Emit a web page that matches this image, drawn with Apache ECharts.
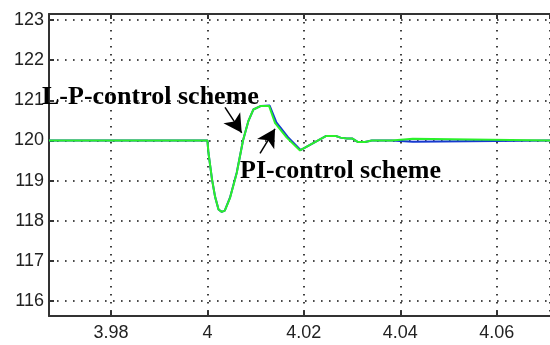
<!DOCTYPE html>
<html>
<head>
<meta charset="utf-8">
<script src="https://cdn.jsdelivr.net/npm/echarts@6/dist/echarts.min.js"></script>
<style>
  html, body { margin: 0; padding: 0; background: #fff; }
  #chart { width: 550px; height: 345px; }
</style>
</head>
<body>
<div id="chart"></div>
<script>
  // time (s) and speed values
  var lpTime = [3.96714, 4.0, 4.0002, 4.00095, 4.00158, 4.0023, 4.00297, 4.0036, 4.00469, 4.00608, 4.00738,
    4.00848, 4.00952, 4.01112, 4.01278, 4.0140, 4.01645, 4.0192, 4.02456, 4.02664, 4.0276, 4.02889, 4.0300,
    4.03124, 4.03268, 4.03408, 4.0382, 4.0383, 4.0426, 4.0427, 4.07105];
  var lpSpeed = [120, 120, 119.7, 119.03, 118.6, 118.28, 118.22, 118.25, 118.57, 119.19, 120.0,
    120.48, 120.77, 120.86, 120.86, 120.44, 120.07, 119.75, 120.11, 120.11, 120.07, 120.05, 120.05,
    119.96, 119.96, 120.0, 120.0, 120.04, 120.04, 120.0, 120];

  var piTime = [3.96714, 4.0, 4.0002, 4.00095, 4.00158, 4.0023, 4.00297, 4.0036, 4.00469, 4.00608, 4.00738,
    4.00848, 4.00952, 4.01112, 4.0129, 4.0143, 4.0167, 4.0193, 4.02456, 4.02664, 4.0276, 4.02889, 4.0300,
    4.03124, 4.03268, 4.03408, 4.0382, 4.0383, 4.0426, 4.0427, 4.07105];
  var piSpeed = [120, 120, 119.7, 119.03, 118.6, 118.28, 118.22, 118.25, 118.58, 119.2, 120.0,
    120.48, 120.77, 120.86, 120.87, 120.45, 120.08, 119.76, 120.11, 120.11, 120.07, 120.05, 120.05,
    119.96, 119.96, 120.0, 120.0, 119.97, 119.97, 120.0, 120];

  var xMin = 3.96714, xMax = 4.07105;
  var yMin = 115.626, yMax = 123.15;

  function pairs(xs, ys) {
    var out = [];
    for (var i = 0; i < xs.length; i++) out.push([xs[i], ys[i]]);
    return out;
  }

  var chart = echarts.init(document.getElementById('chart'));
  var dotted = { color: '#111', width: 1.6, type: [1.6, 6.4] };
  var axisFont = { fontFamily: 'Liberation Sans, Arial, sans-serif', fontSize: 18, color: '#222' };

  chart.setOption({
    animation: false,
    backgroundColor: '#fff',
    grid: { left: 49, top: 14, right: 0, bottom: 29 },
    xAxis: [{
      type: 'value',
      min: xMin,
      max: xMax,
      splitNumber: 5,
      axisLine: { lineStyle: { color: '#333', width: 2 } },
      axisTick: { inside: true, length: 5, lineStyle: { color: '#333', width: 2 } },
      axisLabel: Object.assign({ margin: 8, showMinLabel: false, showMaxLabel: false }, axisFont),
      splitLine: { show: true, lineStyle: dotted }
    }, {
      type: 'value',
      position: 'top',
      min: xMin,
      max: xMax,
      splitNumber: 5,
      axisLine: { show: true, lineStyle: { color: '#333', width: 2 } },
      axisTick: { show: true, inside: true, length: 5, lineStyle: { color: '#333', width: 2 } },
      axisLabel: { show: false },
      splitLine: { show: false }
    }],
    yAxis: {
      type: 'value',
      min: yMin,
      max: yMax,
      splitNumber: 8,
      axisLine: { show: true, lineStyle: { color: '#333', width: 2 } },
      axisTick: { show: true, inside: true, length: 5, lineStyle: { color: '#333', width: 2 } },
      axisLabel: Object.assign({ margin: 5, showMinLabel: false, showMaxLabel: false }, axisFont),
      splitLine: { show: true, lineStyle: dotted }
    },
    series: [{
      name: 'PI-control scheme',
      type: 'line',
      data: pairs(piTime, piSpeed),
      showSymbol: false,
      z: 2,
      lineStyle: { color: '#1538d0', width: 2 }
    }, {
      name: 'L-P-control scheme',
      type: 'line',
      data: pairs(lpTime, lpSpeed),
      showSymbol: false,
      z: 3,
      lineStyle: { color: '#2bf02b', width: 2 },
      markLine: {
        silent: true,
        symbol: ['none', 'arrow'],
        symbolSize: [15, 18],
        label: { show: false },
        lineStyle: { color: '#000', width: 1.5, type: 'solid' },
        data: [
          [{ coord: [4.00365, 120.822] }, { coord: [4.00711, 120.19] }],
          [{ coord: [4.01091, 119.676] }, { coord: [4.01402, 120.29] }]
        ]
      }
    }],
    graphic: [{
      type: 'text',
      z: 100,
      left: 42,
      top: 84,
      style: { text: 'L-P-control scheme', fill: '#000', font: 'bold 26px "Liberation Serif", "Times New Roman", serif' }
    }, {
      type: 'text',
      z: 100,
      left: 240,
      top: 158,
      style: { text: 'PI-control scheme', fill: '#000', font: 'bold 26px "Liberation Serif", "Times New Roman", serif' }
    }]
  });
</script>
</body>
</html>
